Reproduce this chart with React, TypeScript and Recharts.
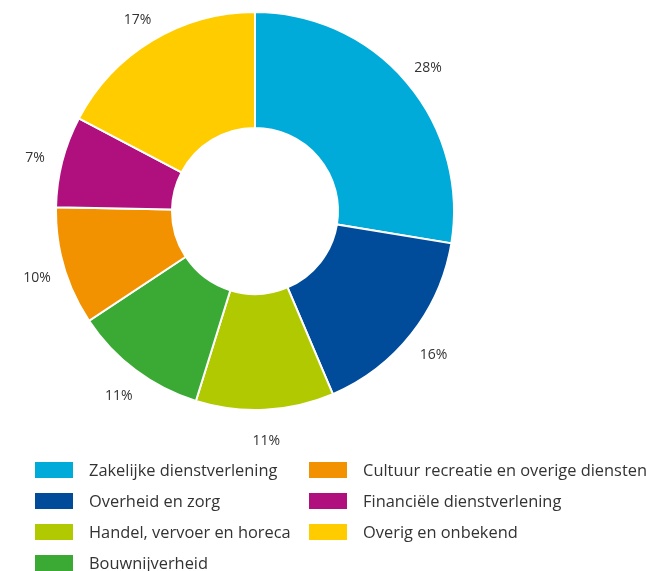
import { Cell, Legend, Pie, PieChart } from 'recharts';

const sectors = [
	'Zakelijke dienstverlening',
	'Overheid en zorg',
	'Handel, vervoer en horeca',
	'Bouwnijverheid',
	'Cultuur recreatie en overige diensten',
	'Financiële dienstverlening',
	'Overig en onbekend',
];
const shares = [27.6, 16.0, 11.2, 10.9, 9.6, 7.4, 17.3];
const colors = ['#00aad9', '#004c9b', '#b1c900', '#3aaa35', '#f39200', '#b0107d', '#ffcc00'];

const data = sectors.map((name, i) => ({ name, value: shares[i] }));

const RAD = Math.PI / 180;

function PctLabel({ cx, cy, midAngle, outerRadius, value }: any) {
	const r = outerRadius + 28;
	const x = cx + r * Math.cos(-midAngle * RAD);
	const y = cy + r * Math.sin(-midAngle * RAD) + 2;
	return (
		<text x={x} y={y} textAnchor="middle" dominantBaseline="central" fill="#333" fontSize={14}>
			{Math.round(value)}%
		</text>
	);
}

function LegendBox() {
	const left = [0, 1, 2, 3];
	const right = [4, 5, 6];
	const row = (i: number) => (
		<div key={i} style={{ display: 'flex', alignItems: 'center', height: 31, whiteSpace: 'nowrap' }}>
			<span style={{ width: 38, height: 16, background: colors[i], marginRight: 16 }} />
			<span>{sectors[i]}</span>
		</div>
	);
	return (
		<div style={{ display: 'flex', fontSize: 16.4, color: '#333' }}>
			<div style={{ width: 275 }}>{left.map(row)}</div>
			<div>{right.map(row)}</div>
		</div>
	);
}

export default function App() {
	// fixed so the chart lines up with the page corner and no scrollbar shows
	return (
		<div
			style={{
				position: 'fixed',
				left: 0,
				top: 0,
				width: 647,
				height: 571,
				overflow: 'hidden',
				fontFamily: 'Open Sans, sans-serif',
			}}
		>
			<PieChart width={647} height={580}>
				<Pie
					data={data}
					dataKey="value"
					cx={250}
					cy={206}
					innerRadius={83}
					outerRadius={199}
					startAngle={90}
					endAngle={-270}
					stroke="#fff"
					strokeWidth={2}
					label={PctLabel}
					labelLine={false}
					isAnimationActive={false}
				>
					{data.map((d, i) => (
						<Cell key={d.name} fill={colors[i]} />
					))}
				</Pie>
				<Legend
					content={<LegendBox />}
					wrapperStyle={{ position: 'absolute', left: 35, top: 454, width: 612 }}
				/>
			</PieChart>
		</div>
	);
}
